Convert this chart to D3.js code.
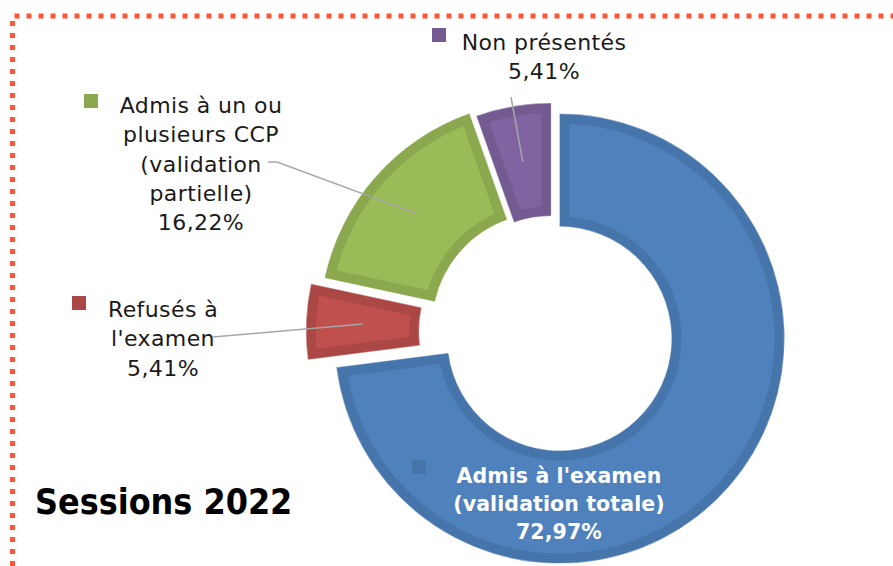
<!DOCTYPE html>
<html>
<head>
<meta charset="utf-8">
<script src="https://cdn.jsdelivr.net/npm/d3@7"></script>
<style>
body { margin: 0; background: #fff; }
</style>
</head>
<body>
<script>
var categories = ["Admis à l'examen (validation totale)", "Refusés à l'examen", "Admis à un ou plusieurs CCP (validation partielle)", "Non présentés"];
var values = [72.97, 5.41, 16.22, 5.41];
var labelLines = [
    ["Admis à l'examen", "(validation totale)", "72,97%"],
    ["Refusés à", "l'examen", "5,41%"],
    ["Admis à un ou", "plusieurs CCP", "(validation", "partielle)", "16,22%"],
    ["Non présentés", "5,41%"]
];
var title = "Sessions 2022";

var fills = ["#4f81bd", "#c0504d", "#9bbb59", "#8064a2"];
var borders = ["#4675ab", "#ab4845", "#8ba84f", "#735a91"];

var width = 893;
var height = 566;
var cx = 552, cy = 332;
var outerR = 225, innerR = 112;
var explode = [10, 21, 10, 4];
var lineH = 29.3;

// where each label sits (text centre x, first baseline, marker corner, leader start)
var labelPos = [
    {x: 559, y: 483, mx: 412, my: 460, leader: null},
    {x: 163, y: 317, mx: 72, my: 296, leader: [[213, 337]]},
    {x: 201, y: 113, mx: 84, my: 94, leader: [[268, 162], [277, 162]]},
    {x: 544, y: 50, mx: 432, my: 28, leader: [[511, 97]]}
];

var svg = d3.select("body").append("svg").attr("width", width).attr("height", height);

// dotted frame
svg.append("path")
    .attr("d", "M12.5," + height + " V16 H" + width)
    .attr("fill", "none")
    .attr("stroke", "#ff5533")
    .attr("stroke-width", 5)
    .attr("stroke-dasharray", "5 7");

var pie = d3.pie().sort(null).value(function(d) { return d; });
var arcs = pie(values);
var arc = d3.arc().innerRadius(innerR).outerRadius(outerR);

function offset(d, i) {
    var mid = (d.startAngle + d.endAngle) / 2;
    return [cx + Math.sin(mid) * explode[i], cy - Math.cos(mid) * explode[i]];
}

var defs = svg.append("defs");
defs.selectAll("clipPath")
    .data(arcs)
    .enter()
    .append("clipPath")
    .attr("id", function(d, i) { return "clip" + i; })
    .append("path")
    .attr("d", arc);

var slices = svg.append("g")
    .selectAll("g")
    .data(arcs)
    .enter()
    .append("g")
    .attr("transform", function(d, i) { return "translate(" + offset(d, i) + ")"; });

slices.append("path")
    .attr("d", arc)
    .attr("fill", function(d, i) { return fills[i]; })
    .attr("stroke", function(d, i) { return borders[i]; })
    .attr("stroke-width", 20)
    .attr("clip-path", function(d, i) { return "url(#clip" + i + ")"; });

slices.append("path")
    .attr("d", arc)
    .attr("fill", "none")
    .attr("stroke", "#ffffff")
    .attr("stroke-opacity", 0.45)
    .attr("stroke-width", 1);

// leader lines to the slice centroids
svg.append("g")
    .selectAll("path")
    .data(arcs.filter(function(d, i) { return labelPos[i].leader; }))
    .enter()
    .append("path")
    .attr("d", function(d) {
        var i = d.index;
        var o = offset(d, i);
        var c = arc.centroid(d);
        var pts = labelPos[i].leader.concat([[o[0] + c[0], o[1] + c[1]]]);
        return d3.line()(pts);
    })
    .attr("fill", "none")
    .attr("stroke", "#a6a6a6")
    .attr("stroke-width", 1.5);

// legend keys
svg.append("g")
    .selectAll("rect")
    .data(arcs)
    .enter()
    .append("rect")
    .attr("x", function(d, i) { return labelPos[i].mx; })
    .attr("y", function(d, i) { return labelPos[i].my; })
    .attr("width", 14)
    .attr("height", 14)
    .attr("fill", function(d, i) { return borders[i]; });

var labels = svg.append("g")
    .selectAll("text")
    .data(arcs)
    .enter()
    .append("text")
    .attr("text-anchor", "middle")
    .attr("font-family", "'DejaVu Sans', sans-serif")
    .attr("font-size", function(d, i) { return i == 0 ? "20.5px" : "22px"; })
    .attr("letter-spacing", function(d, i) { return i == 0 ? "0.1px" : "0.4px"; })
    .attr("font-weight", function(d, i) { return i == 0 ? "bold" : "normal"; })
    .attr("fill", function(d, i) { return i == 0 ? "#ffffff" : "#1a1a1a"; });

labels.selectAll("tspan")
    .data(function(d, i) { return labelLines[i].map(function(t) { return {t: t, i: i}; }); })
    .enter()
    .append("tspan")
    .attr("x", function(d) { return labelPos[d.i].x; })
    .attr("y", function(d, j) { return labelPos[d.i].y + j * (d.i == 0 ? 28 : lineH); })
    .text(function(d) { return d.t; });

svg.append("text")
    .attr("x", 35)
    .attr("y", 514)
    .attr("font-family", "'DejaVu Sans Condensed', 'DejaVu Sans', sans-serif")
    .attr("font-stretch", "condensed")
    .attr("font-weight", "bold")
    .attr("font-size", "35.5px")
    .attr("fill", "#000")
    .text(title);
</script>
</body>
</html>
